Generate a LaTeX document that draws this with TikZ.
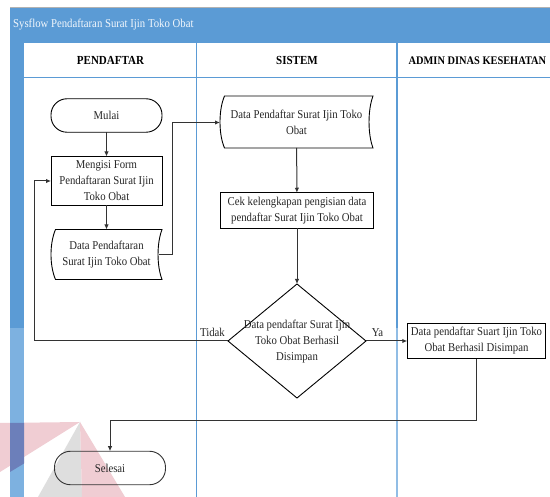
\documentclass[tikz,border=0pt]{standalone}
\usepackage{fontspec}
\setmainfont[FakeStretch=0.895]{Liberation Serif}
\usetikzlibrary{shapes.geometric,arrows.meta}
\definecolor{bandblue}{HTML}{5B9BD5}
\definecolor{bandlight}{HTML}{7DB1E0}
\definecolor{wmred}{HTML}{F0CDD3}
\definecolor{wmgrey}{HTML}{DEDEDE}
\definecolor{wmband}{HTML}{6C7FBA}
\definecolor{inkline}{HTML}{333333}
\tikzset{
  txt/.style={font=\fontsize{12}{16}\selectfont, align=center, inner sep=0pt, text=black!85},
  flowbox/.style={draw=black, line width=0.9pt, minimum width=#1, inner sep=0pt, outer sep=0pt},
  procbox/.style={flowbox=111pt, rectangle, minimum height=49pt, txt},
  terminal/.style={flowbox=111pt, rounded corners=16pt, minimum height=33.5pt, txt},
  datashape/.style={draw=none, minimum width=#1, minimum height=50pt, inner sep=0pt, outer sep=0pt, txt},
  decision/.style={diamond, draw=black, line width=0.9pt, minimum width=138pt, minimum height=114pt, inner sep=0pt, outer sep=0pt},
  conn/.style={draw=inkline, line width=1pt},
  flow/.style={conn, -{Latex[length=5pt,width=4.5pt]}},
  hdr/.style={font=\fontsize{12.3}{13}\selectfont\bfseries, inner sep=0pt, text=black},
  lane/.style={draw=bandblue, line width=0.8pt},
}
\newcommand{\storedshape}[1]{%
  \draw[draw=black, line width=0.9pt]
    ([xshift=4.5pt]#1.north west) -- (#1.north east)
    .. controls ([xshift=-5.3pt,yshift=-14pt]#1.north east) and ([xshift=-5.3pt,yshift=14pt]#1.south east) .. (#1.south east)
    -- ([xshift=4.5pt]#1.south west)
    .. controls ([xshift=-1.5pt,yshift=14pt]#1.south west) and ([xshift=-1.5pt,yshift=-14pt]#1.north west) .. ([xshift=4.5pt]#1.north west) -- cycle;
}
\begin{document}
\begin{tikzpicture}[x=1pt,y=-1pt]
\useasboundingbox (0,0) rectangle (550,497);
\fill[white] (0,0) rectangle (550,497);
% watermark
\fill[wmred] (0,423) -- (80,422) -- (0,472) -- cycle;
\fill[wmgrey] (80,422) -- (38,497) -- (82,497) -- cycle;
\fill[wmred] (80,422) -- (125,497) -- (82,497) -- cycle;
% bands
\draw[black!30, line width=0.8pt] (10,7.8) -- (550,7.8);
\fill[bandblue] (10,8) rectangle (550,43);
\fill[bandblue] (10,43) rectangle (24,328);
\fill[bandlight] (10,328) rectangle (24,497);
\fill[wmband] (10,423) -- (24,423) -- (24,463.5) -- (10,472) -- cycle;
\node[font=\fontsize{12}{13}\selectfont, text=white!92!bandblue, anchor=west, inner sep=0pt] (title) at (13,24.5) {Sysflow Pendaftaran Surat Ijin Toko Obat};
% lanes
\draw[lane] (24,77.5) -- (550,77.5);
\draw[lane] (196.5,43) -- (196.5,497);
\draw[bandblue, line width=1.6pt] (397,43) -- (397,328);
\draw[bandlight!85!white, line width=1.6pt] (397,328) -- (397,497);
\node[hdr] (h1) at (110.5,60.5) {PENDAFTAR};
\node[hdr] (h2) at (297,60.5) {SISTEM};
\node[hdr, font=\fontsize{11.6}{13}\selectfont\bfseries, anchor=west] (h3) at (408.5,60.5) {ADMIN DINAS KESEHATAN};
% shapes
\node[terminal] (mulai) at (106.5,115.5) {Mulai};
\node[procbox] (form) at (106.5,181) {Mengisi Form\\Pendaftaran Surat Ijin\\Toko Obat};
\node[datashape=111pt] (dp) at (106.5,254.5) {Data Pendaftaran\\Surat Ijin Toko Obat};
\storedshape{dp}
\node[datashape=153pt, minimum height=52pt] (ds) at (296.5,122) {Data Pendaftar Surat Ijin Toko\\Obat};
\storedshape{ds}
\node[procbox, minimum width=153pt, minimum height=35.5pt] (cek) at (297,210.5) {Cek kelengkapan pengisian data\\pendaftar Surat Ijin Toko Obat};
\node[decision] (dec) at (297,341) {};
\node[txt] (dect) at (297,341.5) {Data pendaftar Surat Ijin\\Toko Obat Berhasil\\Disimpan};
\node[procbox, minimum width=138.5pt, minimum height=35.5pt] (hasil) at (476.5,341) {Data pendaftar Suart Ijin Toko\\Obat Berhasil Disimpan};
\node[terminal, draw=black!80] (selesai) at (110,468) {Selesai};
\coordinate (c1) at (34,341);
\coordinate (c2) at (34,181);
\coordinate (c3) at (172.5,254.5);
\coordinate (c4) at (172.5,122.5);
\coordinate (c5) at (476.5,421);
\coordinate (c6) at (110,421);
% connectors
\draw[flow] (mulai) -- (form);
\draw[flow] (form) -- (dp);
\draw[conn] ([xshift=-3.5pt]dp.east) -- (c3) -- (c4);
\draw[flow] (c4) -- (c4 -| ds.west);
\draw[flow] (ds) -- (cek);
\draw[flow] (cek) -- (dec.north);
\draw[conn] (dec.west) -- (c1) -- (c2);
\draw[flow] (c2) -- (form.west);
\draw[flow] (dec.east) -- (hasil.west);
\draw[conn] (hasil.south) -- (c5) -- (c6);
\draw[flow] (c6) -- (selesai.north);
\node[txt] (tidak) at (212.5,332.5) {Tidak};
\node[txt] (ya) at (377.5,332.5) {Ya};
\end{tikzpicture}
\end{document}
